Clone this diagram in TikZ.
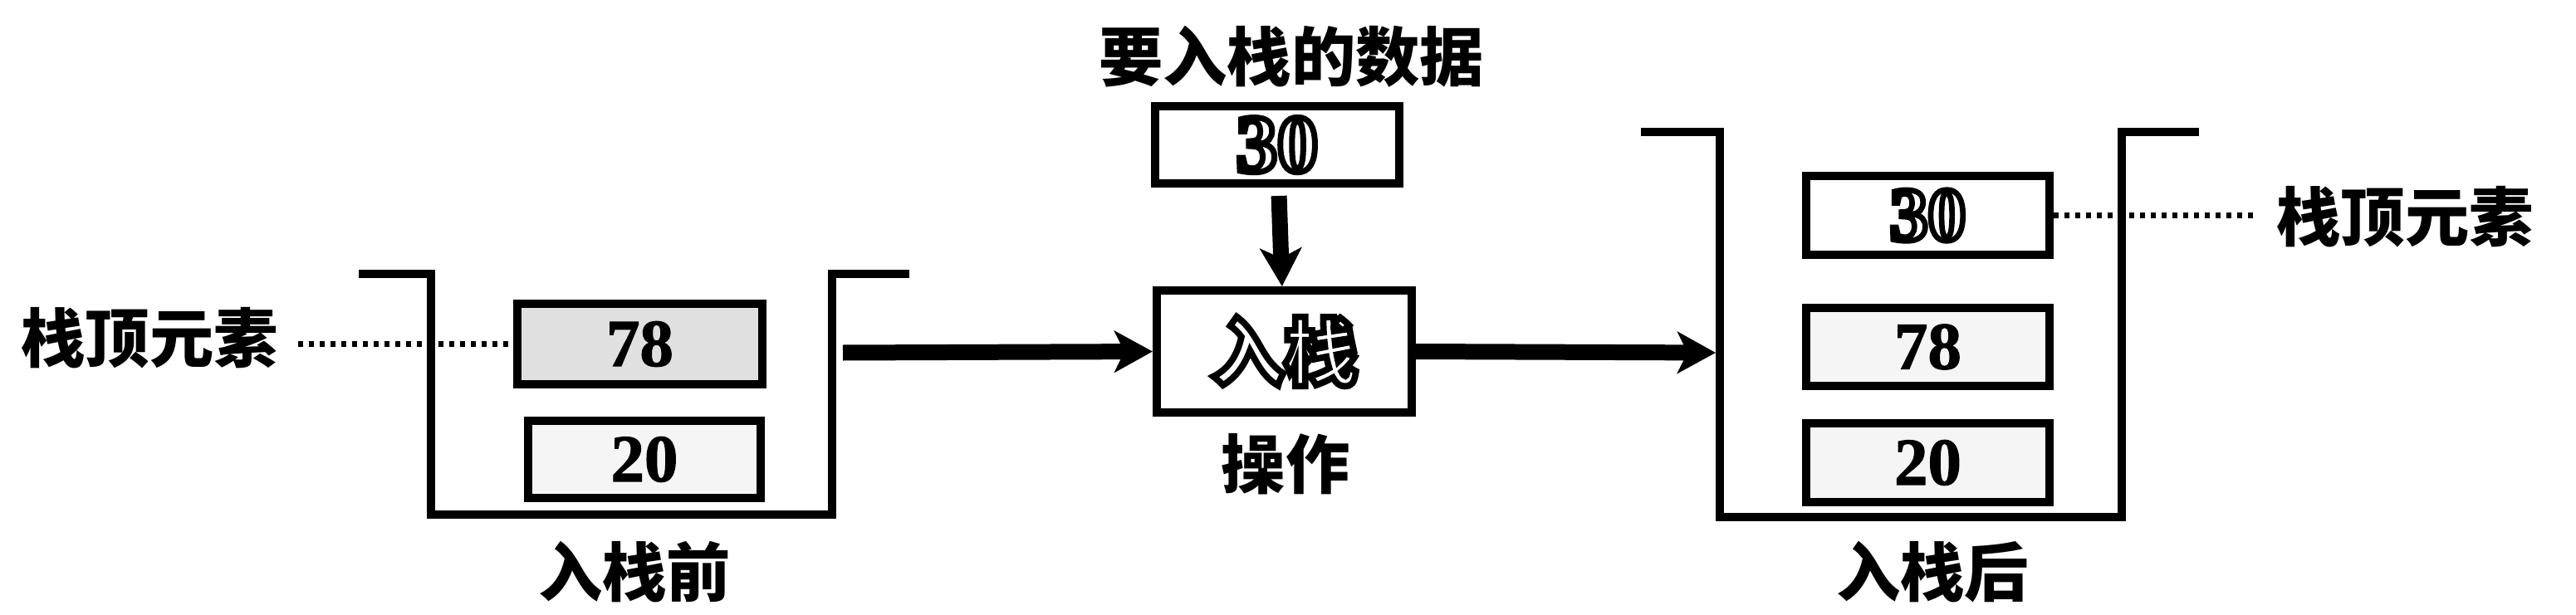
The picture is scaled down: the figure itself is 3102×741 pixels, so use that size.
\documentclass[tikz,border=0pt]{standalone}
\usepackage{fontspec}
\setmainfont{Liberation Serif}
\newfontfamily\numfont{Liberation Serif}[BoldFeatures={FakeBold=1.5}]
\newfontfamily\cjk{Noto Sans CJK SC}
\usetikzlibrary{arrows.meta}
\newcommand{\outlinetext}[2]{\special{pdf:literal direct q 1 Tr #1 w}#2\special{pdf:literal direct Q}}
\begin{document}
\begin{tikzpicture}[x=0.1mm,y=-0.1mm,
  cjklabel/.style={font=\cjk\bfseries\fontsize{22pt}{24pt}\selectfont, inner sep=0pt, anchor=base},
  numbox/.style={draw, line width=1mm, inner sep=0pt, font=\numfont\bfseries\fontsize{23pt}{25pt}\selectfont},
  stackwall/.style={line width=0.95mm},
  bigarrow/.style={line width=1.9mm, -{Stealth[length=4.6mm,width=5mm,inset=1.2mm]}},
  toplink/.style={line width=0.65mm, dash pattern=on 0.6mm off 0.7mm}]
\useasboundingbox (0,0) rectangle (3102,741);

% ---------- left stack (before push)
\draw[stackwall] (432,330) -- (519,330) -- (519,620) -- (1002,620) -- (1002,330) -- (1095,330);
\node[numbox, fill=black!12, minimum width=29.5mm, minimum height=9.7mm] (l78) at (770.5,414.5) {78};
\node[numbox, fill=black!4, minimum width=28mm, minimum height=9.3mm] (l20) at (776,553.5) {20};
\node[cjklabel] (ltop) at (180,436) {栈顶元素};
\coordinate (ldot) at (359,414.5);
\draw[toplink] (ldot) -- (l78.west);
\node[cjklabel] (lcap) at (764,718) {入栈前};
\coordinate (lout) at (1015,425);

% ---------- operation
\node[cjklabel] (dcap) at (1555,97) {要入栈的数据};
\node[numbox, fill=white, minimum width=29.4mm, minimum height=9.3mm, font=\bfseries] (in30) at (1538,174.5)
  {\fontsize{28pt}{30pt}\selectfont\outlinetext{2}{30}};
\node[draw, line width=1mm, inner sep=0pt, minimum width=30.7mm, minimum height=14.7mm,
  font=\cjk\bfseries\fontsize{25pt}{27pt}\selectfont] (op) at (1546.5,423.5) {\outlinetext{2.2}{入栈}};
\node[cjklabel] (ocap) at (1548,588) {操作};
\draw[bigarrow, shorten <=1mm] (in30) -- (op);
\draw[bigarrow] (lout) -- (op.west);

% ---------- right stack (after push)
\coordinate (rin) at (2066,425);
\draw[bigarrow] (op.east) -- (rin);
\draw[stackwall] (1976,159) -- (2071,159) -- (2071,623) -- (2555,623) -- (2555,159) -- (2648,159);
\node[numbox, fill=white, minimum width=29.3mm, minimum height=9.5mm, font=\bfseries] (r30) at (2321.5,259.5)
  {\fontsize{26pt}{28pt}\selectfont\outlinetext{1.9}{30}};
\node[numbox, fill=black!4, minimum width=29.3mm, minimum height=9.4mm] (r78) at (2321.5,418) {78};
\node[numbox, fill=black!4, minimum width=29.3mm, minimum height=9.5mm] (r20) at (2321.5,557.5) {20};
\node[cjklabel] (rtop) at (2896,290) {栈顶元素};
\coordinate (rdot) at (2717,259.5);
\draw[toplink] (r30.east) -- (rdot);
\node[cjklabel] (rcap) at (2327,718) {入栈后};
\end{tikzpicture}
\end{document}
